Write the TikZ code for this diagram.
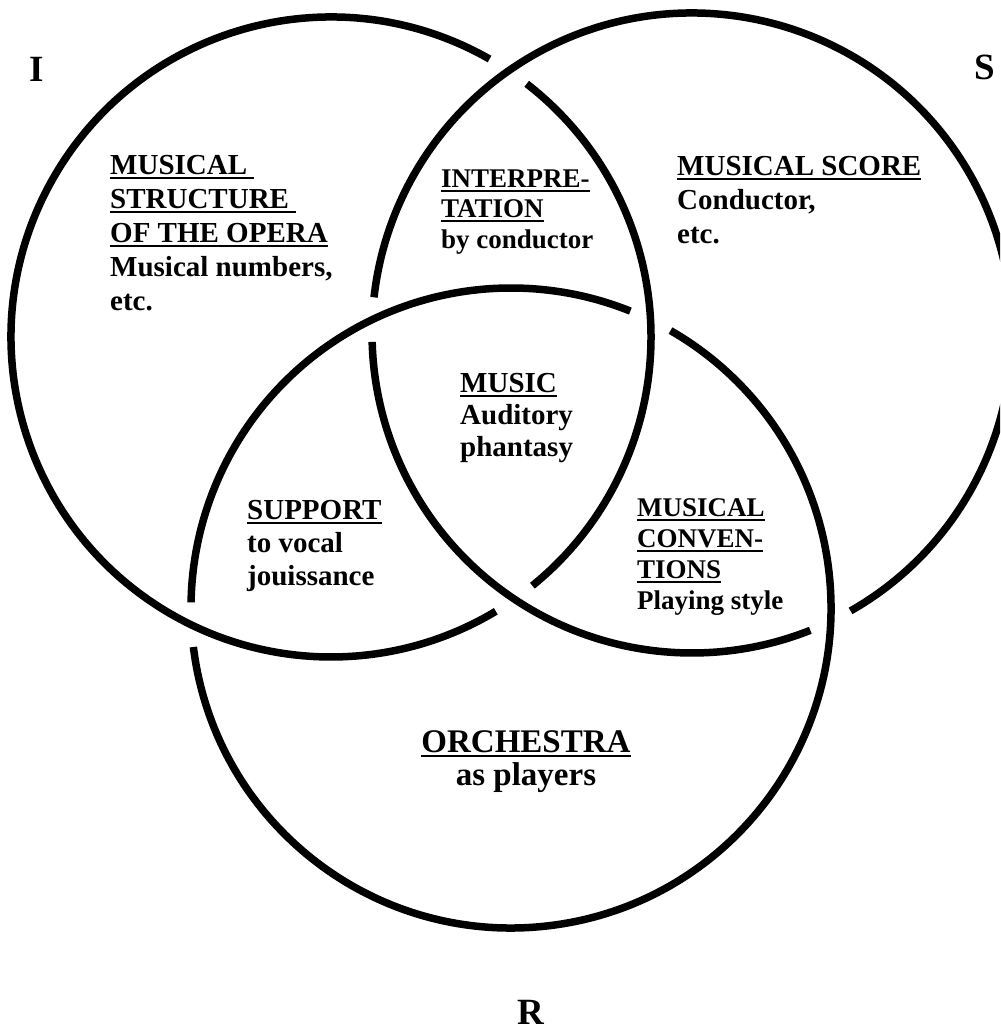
\documentclass[tikz,border=0pt]{standalone}
\usepackage{fontspec}
\setmainfont{Liberation Serif}
\newcommand\ulin[1]{\setbox0=\hbox{#1}\rlap{\rule[-4.5pt]{\wd0}{2.5pt}}\box0}
\begin{document}
\begin{tikzpicture}[x=1pt,y=1pt,
  ring/.style={line width=7.5pt},
  txt/.style={anchor=base west, inner sep=0pt, font=\bfseries\fontsize{29}{34}\selectfont},
  txts/.style={anchor=base west, inner sep=0pt, font=\bfseries\fontsize{27}{31}\selectfont},
  txtc/.style={anchor=base, inner sep=0pt, font=\bfseries\fontsize{33}{38}\selectfont},
  rlbl/.style={anchor=base, inner sep=0pt, font=\bfseries\fontsize{37}{42}\selectfont}]
\useasboundingbox (0,0) rectangle (1000,1032);
\clip (0,0) rectangle (1000,1032);
\coordinate (cI) at (331,695);
\coordinate (cS) at (692,699);
\coordinate (cR) at (511,424);
% circle I (under S at both crossings)
\draw[ring] (cI) ++(-51:320) arc[start angle=-51, end angle=52.3, radius=320];
\draw[ring] (cI) ++(60.3:320) arc[start angle=60.3, end angle=301, radius=320];
% circle S (under R at both crossings)
\draw[ring] (cS) ++(-60.3:320) arc[start angle=-60.3, end angle=173.6, radius=320];
\draw[ring] (cS) ++(181.6:320) arc[start angle=181.6, end angle=291.7, radius=320];
% circle R (under I at both crossings)
\draw[ring] (cR) ++(68.1:320) arc[start angle=68.1, end angle=179, radius=320];
\draw[ring] (cR) ++(187:320) arc[start angle=187, end angle=420.1, radius=320];
% corner labels
\node[rlbl] (lI) at (37,950) {I};
\node[rlbl] (lS) at (985,952) {S};
\node[rlbl] (lR) at (531,8) {R};
% I region
\node[txt] (a1) at (110,857) {\ulin{MUSICAL\ }};
\node[txt] (a2) at (110,823) {\ulin{STRUCTURE\ }};
\node[txt] (a3) at (110,789) {\ulin{OF THE OPERA}};
\node[txt] (a4) at (110,755) {Musical numbers,};
\node[txt] (a5) at (110,721) {etc.};
% I and S
\node[txts] (b1) at (441,844) {\ulin{INTERPRE-}};
\node[txts] (b2) at (441,814) {\ulin{TATION}};
\node[txts] (b3) at (441,783) {by conductor};
% S region
\node[txt] (c1) at (677,856) {\ulin{MUSICAL SCORE}};
\node[txt] (c2) at (677,822) {Conductor,};
\node[txt] (c3) at (677,788) {etc.};
% center
\node[txt] (d1) at (460,639) {\ulin{MUSIC}};
\node[txt] (d2) at (460,607) {Auditory};
\node[txt] (d3) at (460,575) {phantasy};
% I and R
\node[txt] (e1) at (247,512) {\ulin{SUPPORT}};
\node[txt] (e2) at (247,479) {to vocal};
\node[txt] (e3) at (247,446) {jouissance};
% S and R
\node[txts] (f1) at (637,515) {\ulin{MUSICAL}};
\node[txts] (f2) at (637,484) {\ulin{CONVEN-}};
\node[txts] (f3) at (637,453) {\ulin{TIONS}};
\node[txts] (f4) at (637,422) {Playing style};
% R region
\node[txtc] (g1) at (526,279) {\ulin{ORCHESTRA}};
\node[txtc] (g2) at (526,246) {as players};
\end{tikzpicture}
\end{document}
